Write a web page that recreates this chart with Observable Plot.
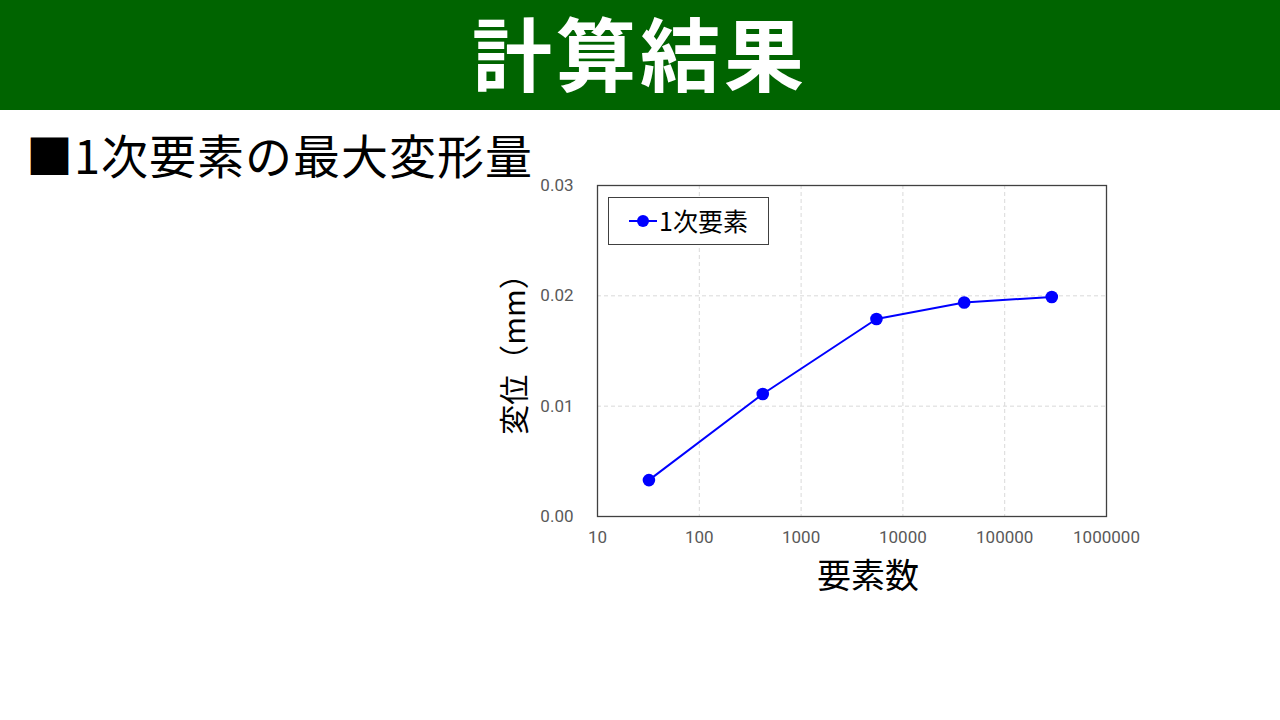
<!DOCTYPE html>
<html lang="ja">
<head>
<meta charset="utf-8">
<script src="https://cdn.jsdelivr.net/npm/d3@7"></script>
<script src="https://cdn.jsdelivr.net/npm/@observablehq/plot@0.6"></script>
<style>
  html, body { margin: 0; padding: 0; background: #fff; }
  #page { position: relative; width: 1280px; height: 720px; overflow: hidden; font-family: "Noto Sans CJK JP", sans-serif; }
  #banner { position: absolute; left: 0; top: 0; width: 1280px; height: 110px; background: #006400; display: flex; align-items: center; justify-content: center; }
  #banner-title { color: #fff; font-size: 80px; font-weight: 700; letter-spacing: 4px; line-height: 1.2; margin-top: -10px; white-space: nowrap; }
  #heading { position: absolute; left: 26px; top: 128px; font-size: 47px; letter-spacing: 1px; color: #000; white-space: nowrap; line-height: 1.1; }
  #chart { position: absolute; left: 480px; top: 170px; }
  #ylabel { position: absolute; left: 512px; top: 347px; transform: translate(-50%, -50%) rotate(-90deg); font-size: 30px; line-height: 34px; white-space: nowrap; color: #000; }
  #xlabel { position: absolute; left: 868px; top: 574px; transform: translate(-50%, -50%); font-size: 34px; line-height: 38px; white-space: nowrap; color: #000; }
  #legend { position: absolute; left: 608px; top: 197px; width: 159px; height: 46px; border: 1px solid #404040; background: #fff; }
  #legend svg { position: absolute; left: 18px; top: 13px; }
  #legend span { position: absolute; left: 50px; top: 5px; font-size: 25px; line-height: 34px; color: #000; white-space: nowrap; }
</style>
</head>
<body>
<div id="page">
  <div id="banner"><div id="banner-title">計算結果</div></div>
  <div id="heading">■1次要素の最大変形量</div>
  <div id="chart"></div>
  <div id="ylabel">変位（mm）</div>
  <div id="xlabel">要素数</div>
  <div id="legend">
    <svg width="32" height="20"><line x1="2" y1="10" x2="30" y2="10" stroke="#0000ff" stroke-width="2"/><circle cx="16" cy="10" r="6" fill="#0000ff"/></svg>
    <span>1次要素</span>
  </div>
</div>
<script>
const seriesName = "1次要素";
const elementCounts = [32, 420, 5500, 40000, 290000];
const displacements = [0.0033, 0.0111, 0.0179, 0.0194, 0.0199];
const xTicks = [10, 100, 1000, 10000, 100000, 1000000];
const yTicks = [0, 0.01, 0.02, 0.03];

const data = elementCounts.map((n, i) => ({ n, d: displacements[i] }));

const chart = Plot.plot({
  width: 680,
  height: 430,
  marginLeft: 117,
  marginRight: 54,
  marginTop: 15,
  marginBottom: 84,
  style: { fontFamily: "Roboto, sans-serif", fontSize: "17px", color: "#595959", background: "transparent", overflow: "visible" },
  x: { type: "log", domain: [10, 1000000] },
  y: { domain: [0, 0.03] },
  marks: [
    Plot.gridX(xTicks.slice(1, -1), { stroke: "#d9d9d9", strokeOpacity: 1, strokeDasharray: "4,3" }),
    Plot.gridY(yTicks.slice(1, -1), { stroke: "#d9d9d9", strokeOpacity: 1, strokeDasharray: "4,3" }),
    Plot.frame({ stroke: "#404040", strokeWidth: 1.3 }),
    Plot.axisX(xTicks, { tickSize: 0, tickPadding: 14, tickFormat: d => String(d), label: null, fill: "#595959" }),
    Plot.axisY(yTicks, { tickSize: 0, tickPadding: 24, tickFormat: d3.format(".2f"), label: null, fill: "#595959" }),
    Plot.line(data, { x: "n", y: "d", stroke: "#0000ff", strokeWidth: 2 }),
    Plot.dot(data, { x: "n", y: "d", r: 6.3, fill: "#0000ff", stroke: "none" })
  ]
});
document.getElementById("chart").appendChild(chart);
</script>
</body>
</html>
